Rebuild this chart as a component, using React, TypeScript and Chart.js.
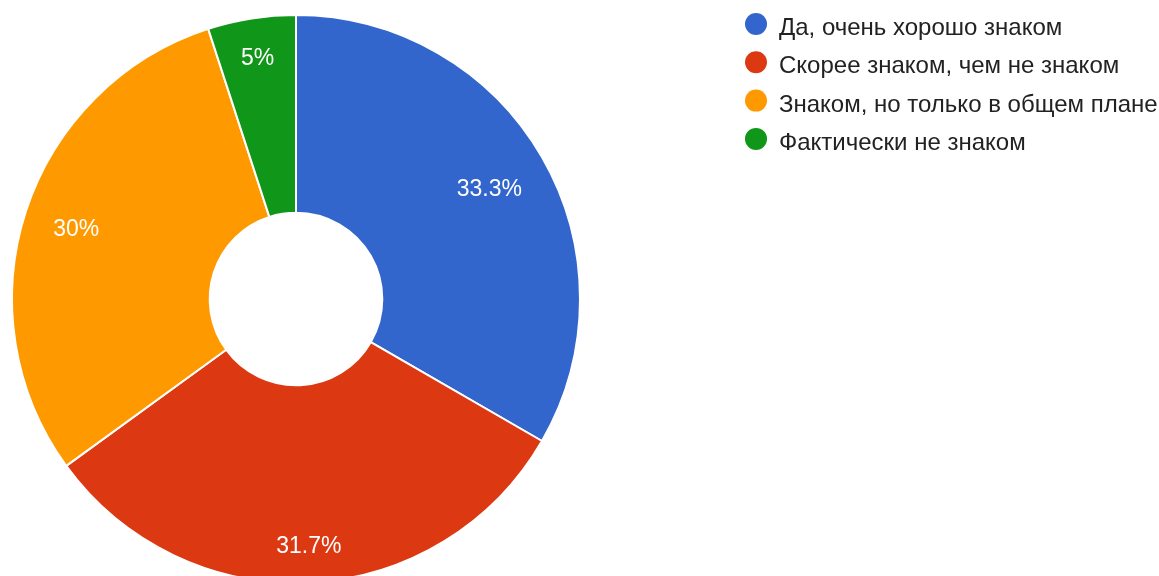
import React, { useEffect, useRef } from "react";
import { Chart, registerables } from "chart.js";

Chart.register(...registerables);

const categories = [
  "Да, очень хорошо знаком",
  "Скорее знаком, чем не знаком",
  "Знаком, но только в общем плане",
  "Фактически не знаком",
];
const counts = [20, 19, 18, 3];
const colors = ["#3366cc", "#dc3912", "#ff9900", "#109618"];

const FONT = "'Liberation Sans', Arial, sans-serif";
const LABEL_SIZE = 23;
const LEGEND_SIZE = 24;

const labelsPlugin = {
  id: "sliceLabels",
  afterDatasetsDraw(chart: any) {
    const ctx = chart.ctx;
    const meta = chart.getDatasetMeta(0);
    const data = chart.data.datasets[0].data as number[];
    const total = data.reduce((a, b) => a + b, 0);
    ctx.save();
    ctx.fillStyle = "#ffffff";
    ctx.font = `${LABEL_SIZE}px ${FONT}`;
    ctx.textAlign = "center";
    ctx.textBaseline = "alphabetic";
    const capH = LABEL_SIZE * 0.716;
    meta.data.forEach((arc: any, i: number) => {
      const p = arc.getProps(["x", "y", "startAngle", "endAngle", "outerRadius"], true);
      const mid = (p.startAngle + p.endAngle) / 2;
      const pct = Math.round((data[i] / total) * 1000) / 10;
      const text = `${pct}%`;
      const w = ctx.measureText(text).width;
      const c = Math.cos(mid);
      const s = Math.sin(mid);
      const r = p.outerRadius * 0.9 - (Math.abs(c) * w) / 2 - (Math.abs(s) * capH) / 2;
      const cx = p.x + c * r;
      const cy = p.y + s * r;
      ctx.fillText(text, cx, cy + capH / 2);
    });
    ctx.restore();
  },
};

const legendPlugin = {
  id: "sideLegend",
  afterDraw(chart: any) {
    const ctx = chart.ctx;
    const x0 = 756;
    const y0 = 24;
    const step = 38.3;
    ctx.save();
    ctx.font = `${LEGEND_SIZE}px ${FONT}`;
    ctx.textAlign = "left";
    ctx.textBaseline = "alphabetic";
    categories.forEach((c, i) => {
      const y = y0 + i * step;
      ctx.beginPath();
      ctx.arc(x0, y, 11, 0, Math.PI * 2);
      ctx.fillStyle = colors[i];
      ctx.fill();
      ctx.fillStyle = "#222222";
      ctx.fillText(c, x0 + 23, y + 11);
    });
    ctx.restore();
  },
};

export default function App() {
  const ref = useRef<HTMLCanvasElement>(null);
  useEffect(() => {
    if (!ref.current) return;
    const chart = new Chart(ref.current, {
      type: "doughnut",
      data: {
        labels: categories,
        datasets: [
          {
            data: counts,
            backgroundColor: colors,
            borderColor: "#ffffff",
            borderWidth: 2,
            hoverOffset: 0,
          },
        ],
      },
      options: {
        responsive: false,
        animation: false,
        radius: 284,
        cutout: 86,
        layout: { padding: { left: 12, top: 15, right: 579, bottom: 17 } },
        plugins: {
          legend: { display: false },
          tooltip: { enabled: false },
        },
      },
      plugins: [labelsPlugin, legendPlugin],
    });
    return () => chart.destroy();
  }, []);
  return (
    <div style={{ position: "fixed", left: 0, top: 0, width: 1159, height: 576, overflow: "hidden", background: "#fff" }}>
      <canvas ref={ref} width={1159} height={600} style={{ display: "block", width: 1159, height: 600 }} />
    </div>
  );
}
